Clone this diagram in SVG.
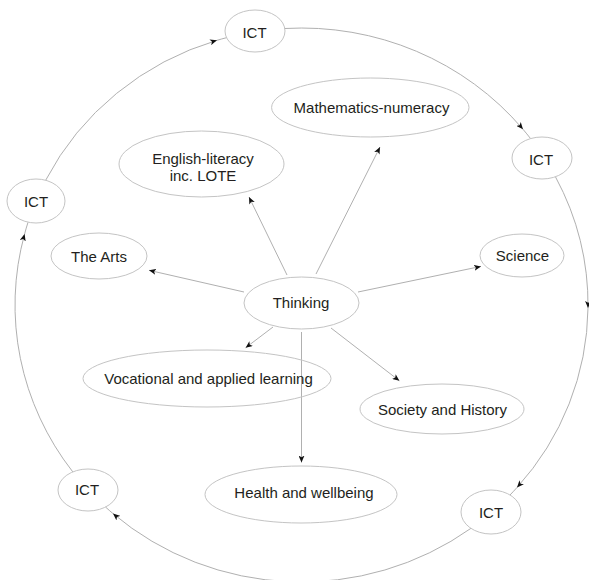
<svg xmlns="http://www.w3.org/2000/svg" width="589" height="580" viewBox="0 0 589 580">
<style>
  .node ellipse { fill: none; stroke: #c4c4c4; stroke-width: 1; }
  .node text { font-family: "Liberation Sans", Arial, sans-serif; font-size: 15px; fill: #231f20; text-anchor: middle; }
  .edges path, .edges line { fill: none; stroke: #b0b0b0; stroke-width: 1; }
  .spoke { marker-end: url(#ah); }
  .ring { marker-mid: url(#ah); }
</style>
<defs>
  <marker id="ah" markerUnits="userSpaceOnUse" markerWidth="8" markerHeight="6" refX="7" refY="3" orient="auto">
    <path d="M0,0 L7,3 L0,6 L1.8,3 z" fill="#111"/>
  </marker>
</defs>
<rect width="589" height="580" fill="#ffffff"/>
<g id="connectors" class="edges">
  <path class="ring" d="M45.8,180 A286.5,277 0 0,1 217,40.3 A286.5,277 0 0,1 226.5,37.7"/>
  <path class="ring" d="M284.7,28.5 A286.5,277 0 0,1 523,129.3 A286.5,277 0 0,1 530.5,138.5"/>
  <path class="ring" d="M555.5,176.9 A286.5,277 0 0,1 588,308 A286.5,277 0 0,1 517,487.5 A286.5,277 0 0,1 510,495"/>
  <path class="ring" d="M471,528.3 A286.5,277 0 0,1 113,513.6 A286.5,277 0 0,1 105.5,507"/>
  <path class="ring" d="M72.8,471.9 A286.5,277 0 0,1 24.6,234 A286.5,277 0 0,1 28,222.3"/>
  <line class="spoke" x1="287" y1="275" x2="249" y2="197"/>
  <line class="spoke" x1="316" y1="274" x2="380" y2="147"/>
  <line class="spoke" x1="244" y1="292" x2="149" y2="270.3"/>
  <line class="spoke" x1="358" y1="292" x2="481" y2="266.4"/>
  <line class="spoke" x1="273" y1="327" x2="245.6" y2="347.8"/>
  <line class="spoke" x1="331" y1="328" x2="399.4" y2="380.8"/>
  <line class="spoke" x1="301.5" y1="332" x2="301.5" y2="462.5"/>
</g>
<g id="ict-top" class="node"><ellipse cx="255" cy="31" rx="30" ry="21"/><text x="254.5" y="37.5">ICT</text></g>
<g id="ict-right" class="node"><ellipse cx="542" cy="158" rx="30" ry="21"/><text x="541" y="164.5">ICT</text></g>
<g id="ict-left" class="node"><ellipse cx="36" cy="201" rx="29" ry="22"/><text x="36" y="206.5">ICT</text></g>
<g id="ict-bottom-left" class="node"><ellipse cx="88" cy="490" rx="30" ry="21"/><text x="87" y="495">ICT</text></g>
<g id="ict-bottom-right" class="node"><ellipse cx="491" cy="512" rx="30" ry="22"/><text x="491" y="518">ICT</text></g>
<g id="mathematics" class="node"><ellipse cx="370.3" cy="107.5" rx="98.7" ry="29.5"/><text x="371.5" y="113">Mathematics-numeracy</text></g>
<g id="english" class="node"><ellipse cx="201.5" cy="164" rx="82.5" ry="33"/><text x="203" y="163.5">English-literacy</text><text x="203" y="181">inc. LOTE</text></g>
<g id="arts" class="node"><ellipse cx="99" cy="256" rx="48" ry="23"/><text x="99" y="262">The Arts</text></g>
<g id="thinking" class="node"><ellipse cx="301.5" cy="303" rx="57.5" ry="26"/><text x="301" y="308">Thinking</text></g>
<g id="science" class="node"><ellipse cx="522" cy="255.5" rx="42" ry="21.5"/><text x="522.5" y="261">Science</text></g>
<g id="vocational" class="node"><ellipse cx="207" cy="378.5" rx="124" ry="28.5"/><text x="208.5" y="383.5">Vocational and applied learning</text></g>
<g id="society" class="node"><ellipse cx="442" cy="409" rx="82" ry="25"/><text x="442.5" y="414.5">Society and History</text></g>
<g id="health" class="node"><ellipse cx="301" cy="494.5" rx="96" ry="28.5"/><text x="304" y="497.5">Health and wellbeing</text></g>
</svg>
